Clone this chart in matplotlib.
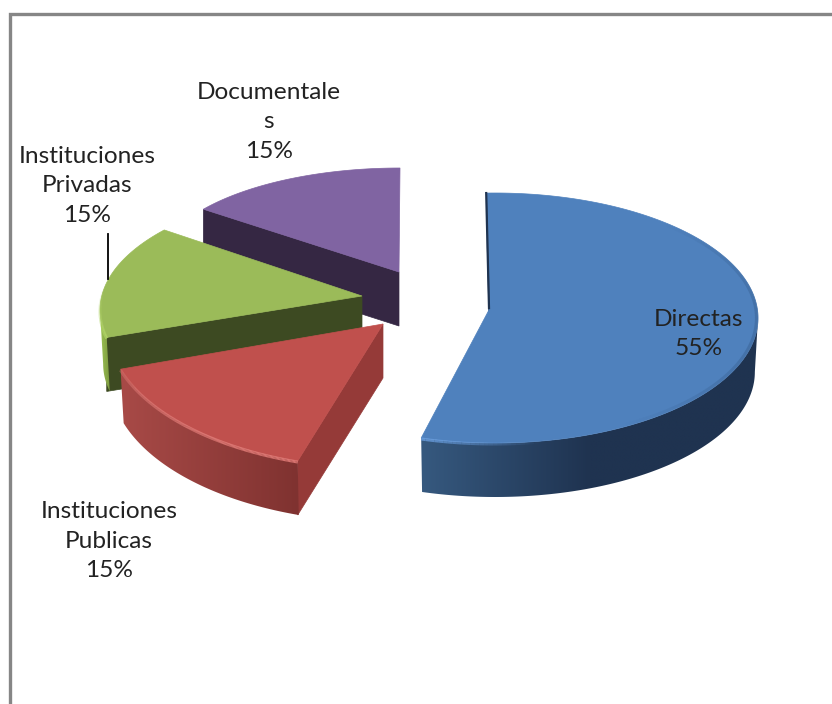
import numpy as np
import matplotlib
matplotlib.use("Agg")
import matplotlib.pyplot as plt
from matplotlib.collections import LineCollection
from matplotlib.colors import to_rgb
from matplotlib.patches import Polygon

names = ["Directas", "Instituciones\nPublicas", "Instituciones\nPrivadas", "Documentale\ns"]
shares = [55, 15, 15, 15]

top_colors = ["#4f81bd", "#c0504d", "#9bbb59", "#8064a2"]
cut_colors = ["#1f3350", "#953a38", "#3d4a22", "#352743"]
side_light = ["#36597f", "#a84a47", "#9cc254", "#352743"]
side_dark = ["#1f3350", "#7f3230", "#7c9a40", "#352743"]
rim_colors = ["#6a9fe0", "#e07a76", "#b5d96a", "#8064a2"]

# exploded slices sit at their own centre, the perspective makes each one a different size
cx = [495, 383, 362, 400]
cy = [318, 325, 310, 268]
rx = [263, 276, 262, 243]
ry = [125, 143, 122, 100]
apex_x = [490, 383, 362, 399]
apex_y = [308, 324, 296, 272]
twist = [-1.7, 0, 5, 0]
depth = 54
wall_taper = 0.988

label_x = [699, 109, 87, 269]
label_y = [334, 541, 186, 122]

plt.rcParams["font.family"] = ["Lato", "DejaVu Sans"]

fig = plt.figure(figsize=(8.32, 7.04), dpi=100)
ax = fig.add_axes([0, 0, 1, 1])
ax.axis("off")

# frame, open on the right and at the bottom
ax.plot([9.5, 9.5, 832], [704, 13.5, 13.5], color="#868686", lw=2.4, solid_joinstyle="miter")


def rim(i, a):
    t = np.radians(a)
    return cx[i] + rx[i] * np.sin(t), cy[i] - ry[i] * np.cos(t)


starts = np.cumsum([0] + shares[:-1]) * 3.6
sweeps = np.array(shares) * 3.6

# back slices first so the front ones cover them
for i in [3, 2, 1, 0]:
    a0 = starts[i] + twist[i]
    a1 = a0 + sweeps[i]
    ang = np.linspace(a0, a1, 200)
    x, y = rim(i, ang)
    z = 2 + (3 - i) * 3

    # cut face on the leading edge
    ax.fill([x[0], apex_x[i], apex_x[i], x[0]],
            [y[0], apex_y[i], apex_y[i] + depth, y[0] + depth],
            color=cut_colors[i], lw=0.5, zorder=z)

    # outer wall, only where it faces the viewer, shaded left to right
    lo = max(a0, 90)
    hi = min(a1, 270)
    if hi > lo:
        wall = np.linspace(lo, hi, 150)
        wx, wy = rim(i, wall)
        bx = cx[i] + (wx - cx[i]) * wall_taper
        outline = np.r_[np.column_stack([wx, wy]), np.column_stack([bx, wy + depth])[::-1]]
        x0, x1 = outline[:, 0].min(), outline[:, 0].max()
        y0, y1 = outline[:, 1].min(), outline[:, 1].max()
        col = np.linspace(x0, x1, 256)
        if i == 0:
            f = np.clip((590 - col) / (590 - x0), 0, 1)
        else:
            f = (x1 - col) / (x1 - x0)
        light = np.array(to_rgb(side_light[i]))
        dark = np.array(to_rgb(side_dark[i]))
        grad = dark + (light - dark) * f[:, None]
        im = ax.imshow(grad[None, :, :], extent=[x0, x1, y1, y0], aspect="auto",
                       interpolation="bilinear", zorder=z)
        im.set_clip_path(Polygon(outline, closed=True, transform=ax.transData))

    # top face
    px = np.r_[apex_x[i], x]
    py = np.r_[apex_y[i], y]
    ax.fill(px, py, color=top_colors[i], lw=0.5, zorder=z + 1)

    # bevel highlight along the front of the rim
    if i < 3:
        pts = np.column_stack([x, y + 1])
        segs = np.stack([pts[:-1], pts[1:]], axis=1)
        rgb = to_rgb(rim_colors[i])
        front = np.clip(-np.cos(np.radians(ang[:-1])), 0, 1)
        if i == 0:
            alpha = np.clip((ang[:-1] - 170) / 25, 0, 1) * 0.8
        elif i == 1:
            alpha = 0.9 * np.clip(0.2 + front, 0, 1)
        else:
            alpha = np.clip((280 - ang[:-1]) / 25, 0, 1) * 0.9
        rgba = [(rgb[0], rgb[1], rgb[2], al) for al in alpha]
        ax.add_collection(LineCollection(segs, colors=rgba, linewidths=2.2, zorder=z + 2))

# soft dark edge on the right of the large slice
ang = np.linspace(40, 150, 120)
ex, ey = rim(0, ang)
pts = np.column_stack([cx[0] + (ex - cx[0]) * 0.995, cy[0] + (ey - cy[0]) * 0.985])
segs = np.stack([pts[:-1], pts[1:]], axis=1)
fade = np.sin(np.radians((ang[:-1] - 40) / 110 * 180)) * 0.3
ax.add_collection(LineCollection(segs, colors=[(0.17, 0.3, 0.47, al) for al in fade],
                                 linewidths=2.5, zorder=12))

# thin dark sliver where the large slice opens at the top
sx, sy = rim(0, starts[0] + twist[0])
ax.plot([sx - 1, apex_x[0] - 1], [sy, apex_y[0]], color=cut_colors[0], lw=1.6, zorder=12)

# labels
for i in range(len(names)):
    ax.text(label_x[i], label_y[i], names[i] + "\n" + str(shares[i]) + "%", ha="center", va="center",
            fontsize=17.6, color="#222222", linespacing=1.52, zorder=20)

# leader line for the green slice
ax.plot([108, 108], [234, 279], color="black", lw=1.3, zorder=20)

ax.set_xlim(0, 832)
ax.set_ylim(704, 0)

fig.savefig("out.png", dpi=100)
